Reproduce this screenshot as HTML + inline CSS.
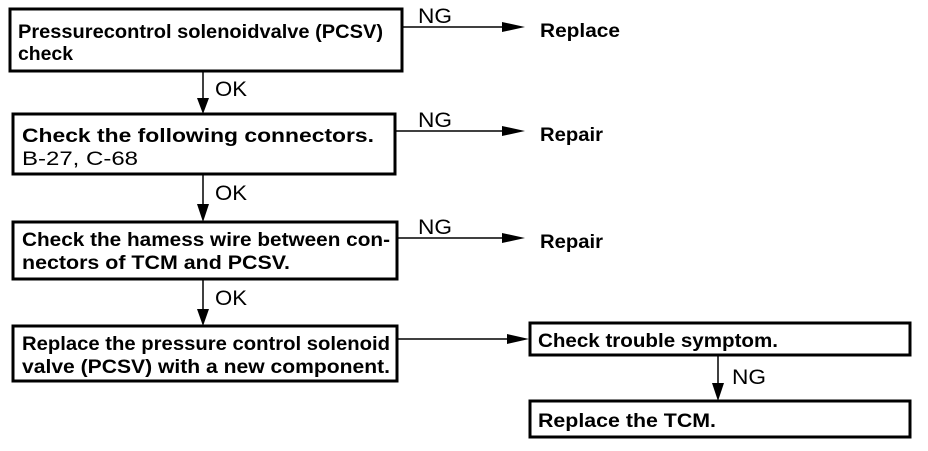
<!DOCTYPE html>
<html><head><style>html,body{margin:0;padding:0;background:#fff}</style></head><body>
<svg width="928" height="446" xmlns="http://www.w3.org/2000/svg" font-family="Liberation Sans, sans-serif" font-weight="bold" font-size="19">
<g fill="none" stroke="#000" stroke-width="3">
<rect x="10" y="9" width="392" height="62"/>
<rect x="13" y="114" width="382" height="60"/>
<rect x="13" y="222" width="384" height="57"/>
<rect x="13" y="326" width="384" height="55"/>
<rect x="530" y="323" width="380" height="32"/>
<rect x="530" y="401" width="380" height="36"/>
</g>
<g stroke="#000" stroke-width="1.5">
<line x1="203" y1="71" x2="203" y2="100"/>
<line x1="203" y1="174" x2="203" y2="205"/>
<line x1="203" y1="279" x2="203" y2="310"/>
<line x1="402" y1="27" x2="505" y2="27"/>
<line x1="395" y1="131" x2="505" y2="131"/>
<line x1="397" y1="238" x2="505" y2="238"/>
<line x1="397" y1="339" x2="510" y2="339"/>
<line x1="718" y1="355" x2="718" y2="385"/>
</g>
<g fill="#000">
<polygon points="197,98 209,98 203,114"/>
<polygon points="197,204 209,204 203,222"/>
<polygon points="197,309 209,309 203,326"/>
<polygon points="502,22 502,32 525,27"/>
<polygon points="502,126 502,136 525,131"/>
<polygon points="502,233 502,243 525,238"/>
<polygon points="507,334 507,344 529,339"/>
<polygon points="712,383 724,383 718,401"/>
</g>
<g font-weight="normal" font-size="21">
<text x="418" y="23" textLength="34" lengthAdjust="spacingAndGlyphs">NG</text>
<text x="418" y="127" textLength="34" lengthAdjust="spacingAndGlyphs">NG</text>
<text x="418" y="234" textLength="34" lengthAdjust="spacingAndGlyphs">NG</text>
<text x="215" y="96" textLength="32" lengthAdjust="spacingAndGlyphs">OK</text>
<text x="215" y="200" textLength="32" lengthAdjust="spacingAndGlyphs">OK</text>
<text x="215" y="305" textLength="32" lengthAdjust="spacingAndGlyphs">OK</text>
<text x="732" y="384" textLength="34" lengthAdjust="spacingAndGlyphs">NG</text>
</g>
<text x="540" y="37" textLength="80" lengthAdjust="spacingAndGlyphs">Replace</text>
<text x="540" y="141" textLength="63" lengthAdjust="spacingAndGlyphs">Repair</text>
<text x="540" y="248" textLength="63" lengthAdjust="spacingAndGlyphs">Repair</text>
<text x="18" y="38" textLength="365" lengthAdjust="spacingAndGlyphs">Pressurecontrol solenoidvalve (PCSV)</text>
<text x="18" y="60" textLength="55" lengthAdjust="spacingAndGlyphs">check</text>
<text x="22" y="142" textLength="352" lengthAdjust="spacingAndGlyphs">Check the following connectors.</text>
<text x="22" y="165" font-weight="normal" textLength="116" lengthAdjust="spacingAndGlyphs">B-27, C-68</text>
<text x="22" y="246" textLength="368" lengthAdjust="spacingAndGlyphs">Check the hamess wire between con-</text>
<text x="22" y="269" textLength="268" lengthAdjust="spacingAndGlyphs">nectors of TCM and PCSV.</text>
<text x="22" y="350" textLength="368" lengthAdjust="spacingAndGlyphs">Replace the pressure control solenoid</text>
<text x="22" y="373" textLength="368" lengthAdjust="spacingAndGlyphs">valve (PCSV) with a new component.</text>
<text x="538" y="347" textLength="240" lengthAdjust="spacingAndGlyphs">Check trouble symptom.</text>
<text x="538" y="427" textLength="178" lengthAdjust="spacingAndGlyphs">Replace the TCM.</text>
</svg>
</body></html>
